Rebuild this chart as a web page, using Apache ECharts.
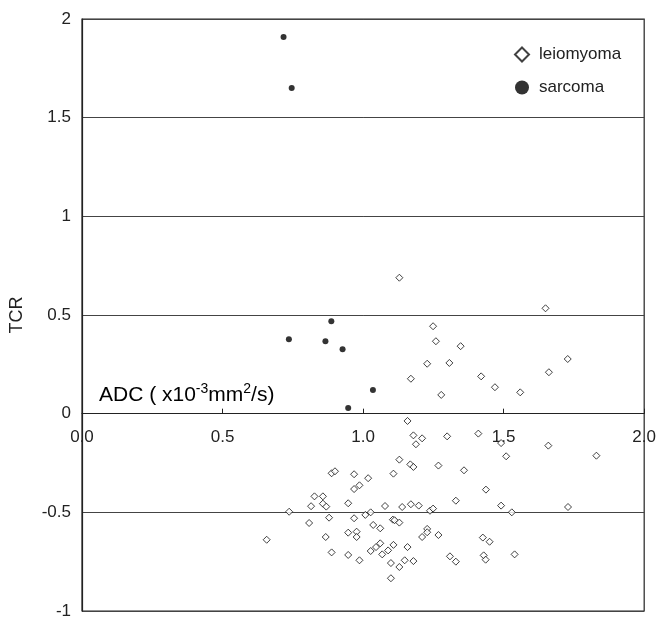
<!DOCTYPE html>
<html>
<head>
<meta charset="utf-8">
<script src="https://cdn.jsdelivr.net/npm/echarts@6/dist/echarts.min.js"></script>
<style>
  html, body { margin: 0; padding: 0; background: #fff; }
  #chart { width: 659px; height: 622px; }
</style>
</head>
<body>
<div id="chart"></div>
<script>
// ADC / TCR 数据
const leiomyomaADC = [
  1.129, 1.649, 1.249, 1.259, 1.347, 1.228, 1.307, 1.728, 1.661, 1.170, 1.420, 1.469, 1.559, 1.278,
  1.158, 1.179, 1.210, 1.188, 1.299, 1.410, 1.491, 1.659, 1.830, 1.509, 1.129, 1.168, 1.179, 1.268,
  1.108, 1.359, 1.437, 1.330, 1.078, 1.139, 1.170, 1.198, 1.238, 1.249, 1.491, 1.529, 1.729, 1.106,
  1.112, 1.129, 1.061, 1.228, 1.228, 1.210, 1.268, 1.426, 1.450, 1.061, 1.108, 1.158, 1.089, 1.068,
  1.539, 1.309, 1.330, 1.429, 1.436, 1.099, 1.148, 1.179, 1.129, 1.099,
  0.657, 0.737, 0.808, 0.815, 0.827, 0.857, 0.857, 0.869, 0.879, 0.867, 0.888, 0.888, 0.900, 0.968,
  0.968, 0.987, 1.018, 0.947, 0.968, 0.947, 0.977, 0.977, 0.947, 0.987, 1.008, 1.027, 1.036, 1.046,
  1.027
];
const leiomyomaTCR = [
  0.689, 0.534, 0.443, 0.367, 0.342, 0.253, 0.257, 0.277, 0.210, 0.177, 0.189, 0.134, 0.108, 0.095,
  -0.037, -0.110, -0.125, -0.155, -0.115, -0.101, -0.149, -0.162, -0.213, -0.216, -0.233, -0.257, -0.270, -0.263,
  -0.304, -0.287, -0.385, -0.441, -0.468, -0.473, -0.459, -0.466, -0.492, -0.481, -0.466, -0.500, -0.473, -0.537,
  -0.540, -0.552, -0.581, -0.584, -0.601, -0.625, -0.615, -0.628, -0.649, -0.657, -0.665, -0.676, -0.693, -0.713,
  -0.713, -0.723, -0.750, -0.718, -0.740, -0.757, -0.743, -0.747, -0.777, -0.834,
  -0.639, -0.497, -0.554, -0.469, -0.419, -0.419, -0.456, -0.471, -0.527, -0.625, -0.703, -0.302, -0.292, -0.307,
  -0.382, -0.363, -0.327, -0.454, -0.530, -0.603, -0.598, -0.625, -0.716, -0.743, -0.513, -0.500, -0.564, -0.676,
  -0.696
];
const sarcomaADC = [0.717, 0.746, 0.736, 0.866, 0.887, 0.927, 0.947, 1.035];
const sarcomaTCR = [1.909, 1.650, 0.377, 0.367, 0.468, 0.326, 0.029, 0.120];
const xTicks = [0, 0.5, 1.0, 1.5, 2.0];

const zip = (xs, ys) => xs.map((x, i) => [x, ys[i]]);
const font = "Liberation Sans, Arial, sans-serif";

// 画布尺寸
const W = 659, H = 622;
const grid = { left: 80.7, right: 12.3, top: 19, bottom: 11 };
const yMin = -1, yMax = 2;
// x轴放在 y=0 处（标签一起移动）
const plotH = H - grid.top - grid.bottom;
const xOffset = -plotH * (0 - yMin) / (yMax - yMin);

const chart = echarts.init(document.getElementById("chart"));
chart.setOption({
  animation: false,
  grid: { ...grid, show: true, borderColor: "#222", borderWidth: 1.2 },
  legend: {
    orient: "vertical",
    left: 509, top: 41,
    itemWidth: 14, itemHeight: 14, itemGap: 16,
    textStyle: { fontFamily: font, fontSize: 17, color: "#222", padding: [0, 0, 0, 5] },
    data: ["leiomyoma", "sarcoma"],
  },
  xAxis: {
    type: "value",
    position: "bottom",
    offset: xOffset,
    min: 0, max: 2, interval: 0.5,
    axisLine: { onZero: false, lineStyle: { color: "#222", width: 1.2 } },
    axisTick: { inside: true, length: 5, lineStyle: { color: "#222" } },
    axisLabel: {
      margin: 15,
      fontFamily: font, fontSize: 17, color: "#222",
      formatter: (v) => (xTicks.includes(v) ? v.toFixed(1) : ""),
    },
    splitLine: { show: false },
  },
  yAxis: {
    type: "value",
    min: yMin, max: yMax, interval: 0.5,
    name: "TCR",
    nameLocation: "middle",
    nameGap: 56,
    nameTextStyle: { fontFamily: font, fontSize: 18, color: "#222" },
    axisLine: { show: true, lineStyle: { color: "#222", width: 1.2 } },
    axisTick: { show: false },
    axisLabel: { margin: 11, fontFamily: font, fontSize: 17, color: "#222" },
    splitLine: { show: true, lineStyle: { color: "#444", width: 1 } },
  },
  graphic: [
    {
      type: "text",
      left: 99, top: 382,
      style: {
        text: "{n|ADC ( x10}{s|-3}{n|mm}{s|2}{n|/s)}",
        rich: {
          n: { fontFamily: font, fontSize: 21, color: "#222", verticalAlign: "bottom", lineHeight: 24 },
          s: { fontFamily: font, fontSize: 14, color: "#222", verticalAlign: "top", lineHeight: 24, padding: [0, 0, 8, 0] },
        },
      },
    },
  ],
  series: [
    {
      name: "leiomyoma",
      type: "scatter",
      symbol: "diamond",
      symbolSize: 7,
      itemStyle: { color: "#fff", borderColor: "#111", borderWidth: 1 },
      data: zip(leiomyomaADC, leiomyomaTCR),
      z: 3,
    },
    {
      name: "sarcoma",
      type: "scatter",
      symbol: "circle",
      symbolSize: 6,
      itemStyle: { color: "#000" },
      data: zip(sarcomaADC, sarcomaTCR),
      z: 4,
    },
  ],
});
</script>
</body>
</html>
